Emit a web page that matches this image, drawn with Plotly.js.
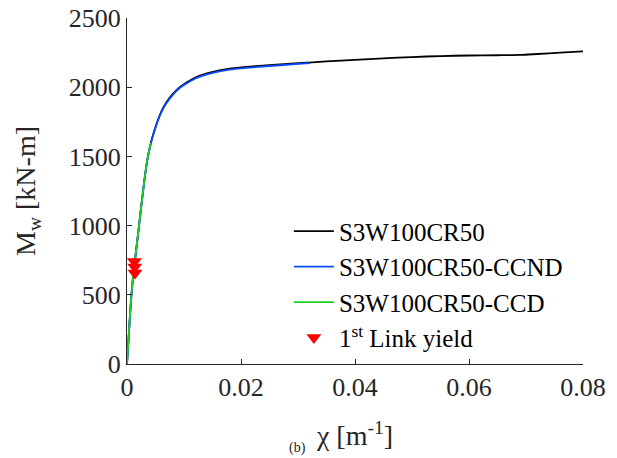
<!DOCTYPE html>
<html>
<head>
<meta charset="utf-8">
<script src="https://cdn.plot.ly/plotly-3.0.1.min.js"></script>
<style>
html,body{margin:0;padding:0;background:#fff;}
#chart{width:617px;height:458px;}
</style>
</head>
<body>
<div id="chart"></div>
<script>
// Curvature chi [1/m] and moment Mw [kN-m]
const chiBase = [0, 0.0003, 0.0006, 0.0009, 0.0012, 0.0016, 0.002, 0.0025, 0.003, 0.0035, 0.004, 0.0045, 0.005, 0.0055, 0.006, 0.0065, 0.007, 0.008, 0.009, 0.01, 0.012, 0.014, 0.016, 0.018, 0.02, 0.025, 0.03, 0.035, 0.04, 0.045, 0.05, 0.055, 0.06, 0.065, 0.069, 0.072, 0.076, 0.08];
const mBase   = [0, 200, 400, 560, 680, 820, 960, 1140, 1310, 1460, 1565, 1645, 1712, 1772, 1822, 1862, 1896, 1950, 1992, 2022, 2070, 2100, 2120, 2134, 2143, 2160, 2173, 2187, 2198, 2208, 2218, 2225, 2229, 2231, 2233, 2240, 2250, 2259];

const chiCCND = [0, 0.0003, 0.0006, 0.0009, 0.0012, 0.0016, 0.002, 0.0025, 0.003, 0.0035, 0.004, 0.0045, 0.005, 0.0055, 0.006, 0.0065, 0.007, 0.008, 0.009, 0.01, 0.012, 0.014, 0.016, 0.018, 0.02, 0.025, 0.03, 0.0321];
const mCCND   = [0, 200, 400, 560, 680, 820, 960, 1140, 1310, 1460, 1563, 1642, 1708, 1767, 1816, 1856, 1889, 1943, 1985, 2015, 2063, 2093, 2113, 2127, 2136, 2153, 2168, 2174];

const chiCCD = [0, 0.0003, 0.0006, 0.0009, 0.0012, 0.0016, 0.002, 0.0025, 0.003, 0.0035, 0.0042];
const mCCD   = [0, 200, 400, 560, 680, 820, 960, 1140, 1310, 1460, 1595];

const chiYield = [0.0013, 0.00135, 0.0014];
const mYield   = [740, 700, 658];

const seriesNames = ["S3W100CR50", "S3W100CR50-CCND", "S3W100CR50-CCD", "1<sup>st</sup> Link yield"];
const xTicks = [0, 0.02, 0.04, 0.06, 0.08];
const xTickText = ["0", "0.02", "0.04", "0.06", "0.08"];
const yTicks = [0, 500, 1000, 1500, 2000, 2500];

const FONT = "Liberation Serif";
const traces = [
  {x: chiBase, y: mBase, mode: "lines", name: seriesNames[0], line: {color: "#000000", width: 1.8, shape: "spline", smoothing: 0.6}},
  {x: chiCCND, y: mCCND, mode: "lines", name: seriesNames[1], line: {color: "#0a4bff", width: 1.8, shape: "spline", smoothing: 0.6}},
  {x: chiCCD, y: mCCD, mode: "lines", name: seriesNames[2], line: {color: "#22cc22", width: 1.8, shape: "spline", smoothing: 0.6}},
  {x: chiYield, y: mYield, mode: "markers", name: seriesNames[3], marker: {symbol: "triangle-down", size: 13, color: "#ff0000"}}
];
const layout = {
  width: 617, height: 458,
  margin: {l: 127, r: 34, t: 18, b: 94},
  paper_bgcolor: "#ffffff", plot_bgcolor: "#ffffff",
  font: {family: FONT, color: "#262626", size: 26},
  showlegend: true,
  legend: {x: 0.355, y: 0.45, xanchor: "left", yanchor: "top", bgcolor: "rgba(0,0,0,0)", font: {family: FONT, size: 25, color: "#000"}, tracegroupgap: 0, itemwidth: 40},
  xaxis: {range: [0, 0.08], tickvals: xTicks, ticktext: xTickText, ticks: "inside", ticklen: 5, tickcolor: "#262626",
          showline: true, linecolor: "#262626", linewidth: 1, mirror: false, showgrid: false, zeroline: false,
          tickfont: {family: FONT, size: 26, color: "#262626"},
          title: {text: "χ [m<sup>-1</sup>]", font: {family: FONT, size: 28, color: "#262626"}, standoff: 24}},
  yaxis: {range: [0, 2500], tickvals: yTicks, ticks: "inside", ticklen: 5, tickcolor: "#262626",
          showline: true, linecolor: "#262626", linewidth: 1, mirror: false, showgrid: false, zeroline: false,
          tickfont: {family: FONT, size: 26, color: "#262626"},
          title: {text: "M<sub>w</sub> [kN-m]", font: {family: FONT, size: 28, color: "#262626"}, standoff: 24}},
  annotations: [{text: "(b)", xref: "paper", yref: "paper", x: 0.373, y: -0.215, xanchor: "center", yanchor: "top", showarrow: false, font: {family: FONT, size: 14, color: "#262626"}}]
};
Plotly.newPlot("chart", traces, layout, {displayModeBar: false, staticPlot: true});
</script>
</body>
</html>
